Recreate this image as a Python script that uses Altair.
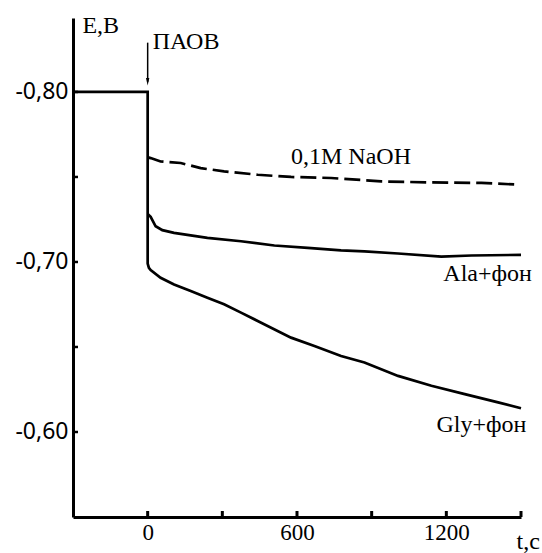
import altair as alt
import pandas as pd

# ---- data ----
gly_t = [-300, 0, 0, 5, 12, 52, 106, 173, 240, 307, 375, 442, 576, 670, 777, 871, 1006, 1140, 1274, 1408, 1500]
gly_E = [-0.80, -0.80, -0.699, -0.6965, -0.6952, -0.6907, -0.6868, -0.6829, -0.6790, -0.6751, -0.6702,
         -0.6653, -0.6555, -0.6506, -0.6447, -0.6409, -0.6330, -0.6272, -0.6223, -0.6174, -0.6140]

ala_t = [2, 12, 32, 59, 106, 240, 375, 509, 643, 777, 871, 1006, 1180, 1301, 1500]
ala_E = [-0.728, -0.7265, -0.7210, -0.7187, -0.7171, -0.7142, -0.7122, -0.7097, -0.7083, -0.7068,
         -0.7062, -0.7050, -0.7032, -0.7038, -0.7042]

naoh_t = [2, 12, 52, 133, 213, 307, 442, 576, 737, 938, 1140, 1341, 1490]
naoh_E = [-0.7615, -0.7611, -0.7591, -0.7582, -0.7552, -0.7533, -0.7513, -0.7500, -0.7494, -0.7474,
          -0.7468, -0.7465, -0.7455]

x_tick_vals = [0, 300, 600, 900, 1200, 1500]
x_label_vals = [0, 600, 1200]
y_tick_vals = [-0.80, -0.75, -0.70, -0.65, -0.60]
y_label_vals = [-0.80, -0.70, -0.60]

labels = ["E,B", "ПАОВ", "0,1M NaOH", "Ala+фон", "Gly+фон", "t,c"]
label_t = [-262, 20, 576, 1188, 1160, 1482]
label_E = [-0.8346, -0.8252, -0.7576, -0.6886, -0.6000, -0.5314]

arrow_t = [0]
arrow_E_top = [-0.8290]
arrow_E_bot = [-0.8060]

# ---- frames ----
solid = pd.DataFrame({
    "t": gly_t + ala_t,
    "E": gly_E + ala_E,
    "s": ["Gly"] * len(gly_t) + ["Ala"] * len(ala_t),
    "o": list(range(len(gly_t))) + list(range(len(ala_t))),
})
dashed = pd.DataFrame({"t": naoh_t, "E": naoh_E, "o": list(range(len(naoh_t)))})
xt = pd.DataFrame({"t": x_tick_vals})
yt = pd.DataFrame({"E": y_tick_vals})
lab = pd.DataFrame({"txt": labels, "t": label_t, "E": label_E})
arr = pd.DataFrame({"t": arrow_t, "E1": arrow_E_top, "E2": arrow_E_bot})

W, H = 448, 499
SERIF = "Liberation Serif"
xs = alt.Scale(domain=[-300, 1500], nice=False, zero=False)
ys = alt.Scale(domain=[-0.8435, -0.55], nice=False, zero=False, reverse=True)

x_axis = alt.Axis(values=x_label_vals, ticks=False, grid=False, domainColor="black", domainWidth=3,
                  labelFont=SERIF, labelFontSize=23, labelColor="black",
                  labelPadding=4, title=None, labelFlush=False,
                  labelExpr="format(datum.value, 'd')")
y_axis = alt.Axis(values=y_label_vals, ticks=False, grid=False, domainColor="black", domainWidth=3,
                  labelFont="Noto Sans", labelFontSize=23, labelColor="black", labelPadding=5,
                  title=None, labelFlush=False,
                  labelExpr="'-' + replace(format(abs(datum.value), '.2f'), '.', ',')")

base_solid = alt.Chart(solid).mark_line(color="black", strokeWidth=2.7, interpolate="linear").encode(
    x=alt.X("t:Q", scale=xs, axis=x_axis),
    y=alt.Y("E:Q", scale=ys, axis=y_axis),
    detail="s:N",
    order="o:Q",
)

dash = alt.Chart(dashed).mark_line(color="black", strokeWidth=2.7, strokeDash=[16, 6]).encode(
    x=alt.X("t:Q", scale=xs),
    y=alt.Y("E:Q", scale=ys),
    order="o:Q",
)

xticks = alt.Chart(xt).mark_rule(color="black", strokeWidth=3).encode(
    x=alt.X("t:Q", scale=xs),
    y=alt.value(H),
    y2=alt.value(H - 6),
)

yticks = alt.Chart(yt).mark_rule(color="black", strokeWidth=2.5).encode(
    y=alt.Y("E:Q", scale=ys),
    x=alt.value(0),
    x2=alt.value(5),
)

texts = alt.Chart(lab).mark_text(font=SERIF, fontSize=24, align="left",
                                 baseline="alphabetic", color="black").encode(
    x=alt.X("t:Q", scale=xs),
    y=alt.Y("E:Q", scale=ys),
    text="txt:N",
)

shaft = alt.Chart(arr).mark_rule(color="black", strokeWidth=1.5).encode(
    x=alt.X("t:Q", scale=xs),
    y=alt.Y("E1:Q", scale=ys),
    y2="E2:Q",
)
head = alt.Chart(arr).mark_point(shape="M-0.45,-1L0.45,-1L0,1Z", filled=True, color="black",
                                 size=55, opacity=1).encode(
    x=alt.X("t:Q", scale=xs),
    y=alt.Y("E2:Q", scale=ys),
)

chart = alt.layer(base_solid, dash, xticks, yticks, shaft, head, texts).properties(
    width=W, height=H,
    autosize=alt.AutoSizeParams(type="none"),
    padding={"left": 73, "top": 18, "right": 21, "bottom": 36},
    background="white",
).configure_view(stroke=None)

chart.save("out.html", embed_options={"renderer": "svg", "actions": False})
